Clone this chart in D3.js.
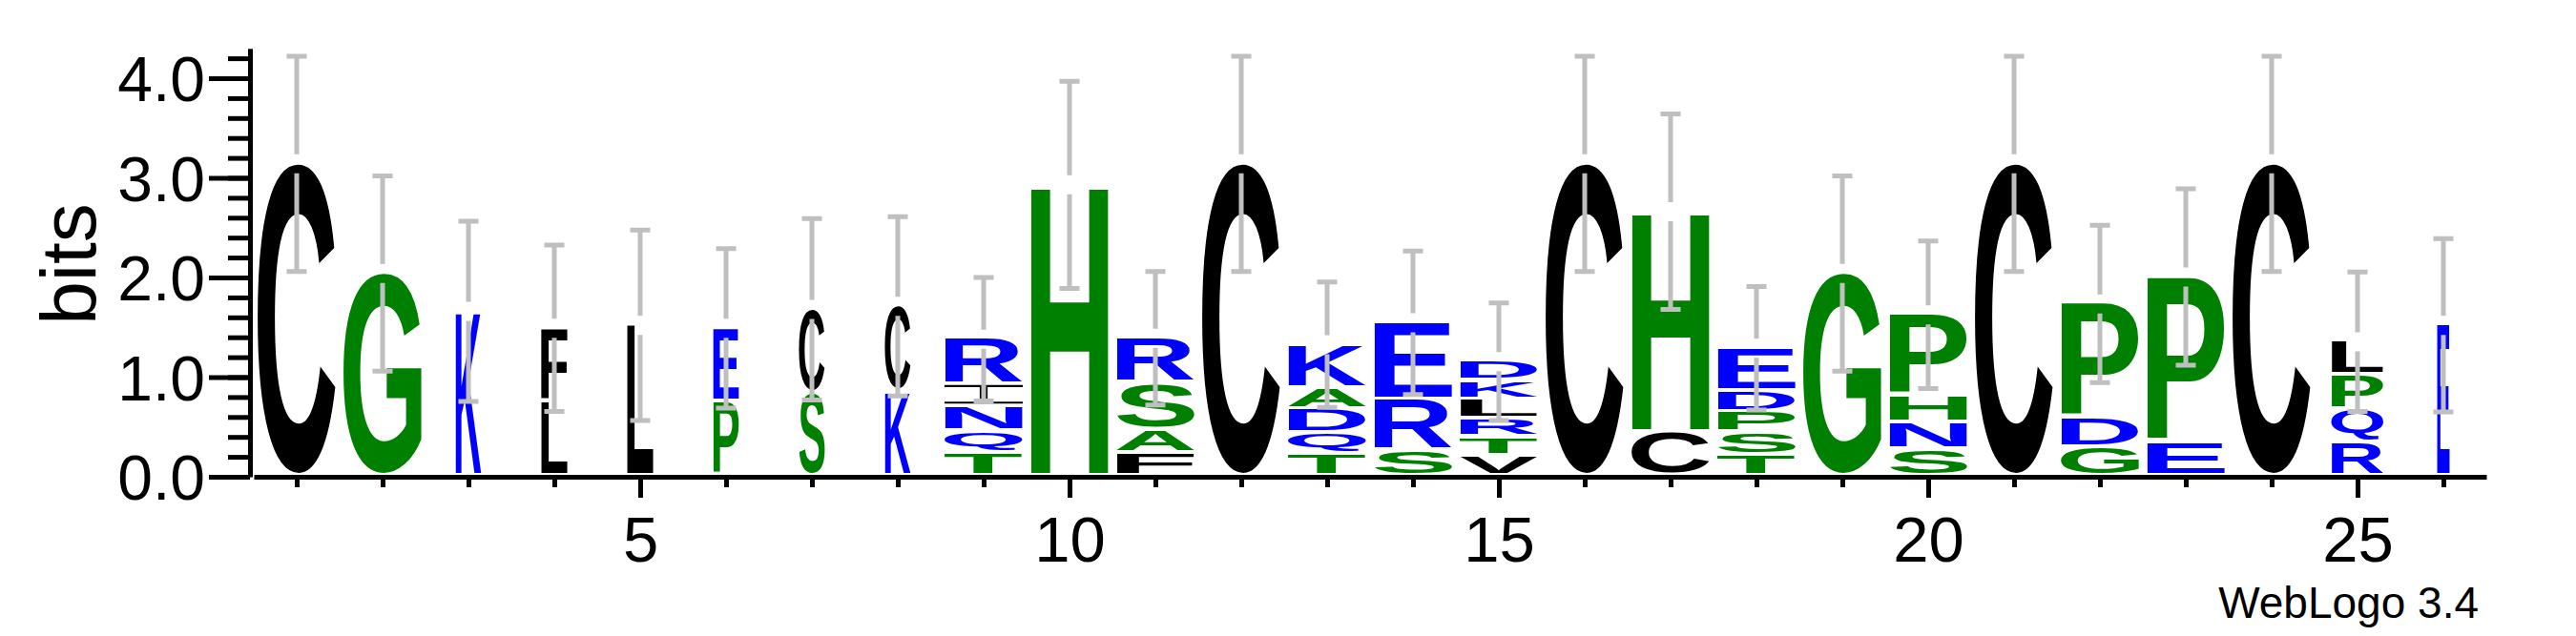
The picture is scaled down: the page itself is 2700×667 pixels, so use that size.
<!DOCTYPE html>
<html>
<head>
<meta charset="utf-8">
<script src="https://cdn.jsdelivr.net/npm/d3@7/dist/d3.min.js"></script>
<style>
  html, body { margin: 0; padding: 0; background: #fff; }
  svg { display: block; }
</style>
</head>
<body>
<div id="logo"></div>
<script>
// sequence positions and letter stacks (bottom -> top), heights in bits
const positions = [1, 2, 3, 4, 5, 6, 7, 8, 9, 10, 11, 12, 13, 14, 15, 16, 17, 18, 19, 20, 21, 22, 23, 24, 25, 26]
const stackLetters = [
  'C', 'G', 'K', 'LF', 'L', 'PE', 'SC', 'KC', 'TQNIR', 'H', 'FASR', 'C', 'TQDAK',
  'SRE', 'VTRLKD', 'C', 'CH', 'TSPDE', 'G', 'SNHP', 'C', 'GDP', 'EP', 'C', 'RQPL', 'E'
]
const stackBits = [
  [3.14], [2.04], [1.66], [0.75, 0.74], [1.52], [0.75, 0.74], [0.83, 0.85], [0.85, 0.86],
  [0.23, 0.22, 0.245, 0.225, 0.46], [2.93], [0.23, 0.235, 0.47, 0.455], [3.14],
  [0.22, 0.21, 0.24, 0.215, 0.44], [0.255, 0.515, 0.775], [0.2, 0.19, 0.185, 0.19, 0.19, 0.2],
  [3.14], [0.44, 2.22], [0.21, 0.225, 0.21, 0.21, 0.435], [2.04], [0.27, 0.27, 0.27, 0.815],
  [3.14], [0.29, 0.29, 1.155], [0.335, 1.67], [3.14], [0.335, 0.335, 0.345, 0.34], [1.52]
]
const errorBits = [
  1.08, 0.98, 0.905, 0.835, 0.955, 0.8, 0.91, 0.9, 0.62, 1.04, 0.67, 1.08, 0.63,
  0.72, 0.59, 1.08, 0.98, 0.62, 0.98, 0.74, 1.08, 0.79, 0.885, 1.08, 0.7, 0.87
]
// fraction of non-gap sequences (scales the stack width)
const stackWidths = [
  1, 1, 0.33, 0.34, 0.34, 0.33, 0.33, 0.33, 1, 1, 1, 1, 1,
  1, 1, 1, 1, 1, 1, 1, 1, 1, 1, 1, 0.67, 0.16
]
const yMajorTicks = [0, 1, 2, 3, 4]
const yMinorTicks = [0, 0.2, 0.4, 0.6, 0.8, 1, 1.2, 1.4, 1.6, 1.8, 2, 2.2, 2.4, 2.6, 2.8, 3, 3.2, 3.4, 3.6, 3.8, 4, 4.2]
const xMajorTicks = [5, 10, 15, 20, 25]

// hydrophobicity colour scheme
const hydrophobic = 'CLFIVMWY'
const hydrophilic = 'KERNQD'
const colorOf = ch => hydrophobic.includes(ch) ? '#000000' : hydrophilic.includes(ch) ? '#0000ff' : '#008000'

const width = 2700
const height = 667
const font = '"Liberation Sans", Arial, Helvetica, sans-serif'

const x = d3.scaleLinear()
  .domain([0.5, 26.5])
  .range([266, 2606])

const y = d3.scaleLinear()
  .domain([0, 4.3])
  .range([500, 500 - 4.3 * 104.5])

const unit = x(1) - x(0)
const glyphW = unit * 0.912
const glyphGap = 4

const svg = d3.select('#logo').append('svg')
  .attr('width', width)
  .attr('height', height)

// tight ink box of a glyph, so it can be stretched to fill its slot
const ctx = document.createElement('canvas').getContext('2d')
ctx.font = `bold 100px ${font}`
const inkBox = ch => {
  const m = ctx.measureText(ch)
  return {
    x0: -m.actualBoundingBoxLeft,
    x1: m.actualBoundingBoxRight,
    y0: -m.actualBoundingBoxAscent,
    y1: m.actualBoundingBoxDescent
  }
}

const glyphs = []
positions.forEach((p, i) => {
  let cum = 0
  stackLetters[i].split('').forEach((ch, j) => {
    const h = stackBits[i][j]
    glyphs.push({ p, ch, lo: cum, hi: cum + h, w: glyphW * stackWidths[i] })
    cum += h
  })
})

const gLetters = svg.append('g')

glyphs.forEach(d => {
  const left = x(d.p) - d.w / 2
  const top = y(d.hi)
  const h = y(d.lo) - glyphGap - top
  if (d.ch === 'I') {
    // serifed I as in WebLogo
    const s = h * 0.11
    const stem = d.w * 0.1
    gLetters.append('path')
      .attr('fill', colorOf(d.ch))
      .attr('d', `M${left},${top}h${d.w}v${s}h${-(d.w - stem) / 2}v${h - 2 * s}h${(d.w - stem) / 2}v${s}h${-d.w}v${-s}h${(d.w - stem) / 2}v${-(h - 2 * s)}h${-(d.w - stem) / 2}z`)
    return
  }
  const b = inkBox(d.ch)
  const sx = d.w / (b.x1 - b.x0)
  const sy = h / (b.y1 - b.y0)
  gLetters.append('text')
    .text(d.ch)
    .attr('font-family', font)
    .attr('font-weight', 'bold')
    .attr('font-size', 100)
    .attr('fill', colorOf(d.ch))
    .attr('transform', `translate(${left},${top}) scale(${sx},${sy}) translate(${-b.x0},${-b.y0})`)
})

// error bars, with a small break at the stack top
const gErr = svg.append('g')
  .attr('stroke', '#bfbfbf')
  .attr('stroke-width', 5)
  .attr('fill', 'none')

positions.forEach((p, i) => {
  const total = d3.sum(stackBits[i])
  const cx = x(p)
  const yTop = y(total)
  const yHi = y(total + errorBits[i])
  const yLo = y(total - errorBits[i])
  gErr.append('path')
    .attr('d', `M${cx},${yHi}V${yTop - 10}M${cx},${yTop + 10}V${yLo}M${cx - 10.5},${yHi}H${cx + 10.5}M${cx - 10.5},${yLo}H${cx + 10.5}`)
})

// y axis
svg.append('g')
  .attr('transform', 'translate(262,0)')
  .call(d3.axisLeft(y).tickValues(yMinorTicks).tickSize(23).tickSizeOuter(0).tickFormat(''))
  .call(g => g.select('.domain').remove())
  .call(g => g.selectAll('line').attr('stroke-width', 5))

svg.append('g')
  .attr('transform', 'translate(262,0)')
  .call(d3.axisLeft(y).tickValues(yMajorTicks).tickSize(43).tickSizeOuter(0).tickPadding(4).tickFormat(d3.format('.1f')))
  .call(g => g.selectAll('line').attr('stroke-width', 5))
  .call(g => g.select('.domain').attr('stroke-width', 5))
  .call(g => g.selectAll('text')
    .attr('font-family', font)
    .attr('font-size', 66)
    .attr('dy', '0.36em'))

svg.append('text')
  .attr('transform', 'translate(100,277) rotate(-90)')
  .attr('text-anchor', 'middle')
  .attr('font-family', font)
  .attr('font-size', 82)
  .text('bits')

// x axis
svg.append('g')
  .attr('transform', 'translate(0,500)')
  .call(d3.axisBottom(x).tickValues(positions).tickSize(11).tickSizeOuter(0).tickFormat(''))
  .call(g => g.select('.domain').remove())
  .call(g => g.selectAll('line').attr('stroke-width', 5))

svg.append('g')
  .attr('transform', 'translate(0,500)')
  .call(d3.axisBottom(x).tickValues(xMajorTicks).tickSize(22).tickSizeOuter(0).tickPadding(19))
  .call(g => g.selectAll('line').attr('stroke-width', 5))
  .call(g => g.select('.domain').attr('stroke-width', 5))
  .call(g => g.selectAll('text')
    .attr('font-family', font)
    .attr('font-size', 67))

svg.append('text')
  .attr('x', 2598)
  .attr('y', 648)
  .attr('text-anchor', 'end')
  .attr('font-family', font)
  .attr('font-size', 46)
  .text('WebLogo 3.4')
</script>
</body>
</html>
